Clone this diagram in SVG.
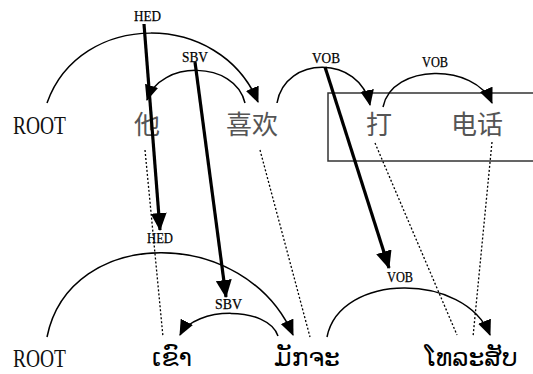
<svg xmlns="http://www.w3.org/2000/svg" width="533" height="374" viewBox="0 0 533 374">
<style>
.w{font-family:"Liberation Serif","DejaVu Serif",serif;font-size:26px;fill:#111}
.zh{font-family:"Noto Sans CJK SC",sans-serif;font-size:26px;font-weight:normal;fill:#555;text-anchor:middle}
.lo{font-family:"DejaVu Sans",sans-serif;font-size:25px;fill:#000;text-anchor:middle}
.lb{font-family:"Liberation Serif","DejaVu Serif",serif;font-size:15px;fill:#000;text-anchor:middle;stroke:#000;stroke-width:0.25}
.arc{fill:none;stroke:#000;stroke-width:1.5}
.dep{fill:none;stroke:#000;stroke-width:3.2}
.dot{fill:none;stroke:#000;stroke-width:1.3;stroke-dasharray:2 2}
</style>
<defs>
<marker id="ah" markerUnits="userSpaceOnUse" markerWidth="16" markerHeight="14" viewBox="0 0 14 12" refX="13" refY="6" orient="auto">
<path d="M0,0 L14,6 L0,12 z" fill="#000"/>
</marker>
<marker id="bh" markerUnits="userSpaceOnUse" markerWidth="18" markerHeight="16" viewBox="0 0 18 16" refX="17" refY="8" orient="auto">
<path d="M0,0 L18,8 L0,16 z" fill="#000"/>
</marker>
</defs>
<rect x="328" y="93" width="215" height="68" fill="none" stroke="#333" stroke-width="1.5"/>
<g id="top-root"><text class="w" x="13" y="134" textLength="53" lengthAdjust="spacingAndGlyphs">ROOT</text></g>
<g id="top-ta"><text class="zh" x="147" y="134">他</text></g>
<g id="top-xihuan"><text class="zh" x="252" y="134">喜欢</text></g>
<g id="top-da"><text class="zh" x="379" y="134">打</text></g>
<g id="top-dianhua"><text class="zh" x="477" y="134">电话</text></g>
<g id="bot-root"><text class="w" x="13" y="367" textLength="53" lengthAdjust="spacingAndGlyphs">ROOT</text></g>
<g id="bot-khao"><text class="lo" x="172" y="366">ເຂົາ</text></g>
<g id="bot-mak"><text class="lo" x="307" y="366">ມັກຈະ</text></g>
<g id="bot-tho"><text class="lo" x="471" y="366">ໂທລະສັບ</text></g>
<g id="labels">
<text class="lb" x="147.5" y="21" textLength="27" lengthAdjust="spacingAndGlyphs">HED</text>
<text class="lb" x="195" y="62" textLength="26" lengthAdjust="spacingAndGlyphs">SBV</text>
<text class="lb" x="326" y="63" textLength="28" lengthAdjust="spacingAndGlyphs">VOB</text>
<text class="lb" x="435" y="67" textLength="26" lengthAdjust="spacingAndGlyphs">VOB</text>
<text class="lb" x="160" y="243" textLength="26" lengthAdjust="spacingAndGlyphs">HED</text>
<text class="lb" x="228.5" y="309" textLength="27" lengthAdjust="spacingAndGlyphs">SBV</text>
<text class="lb" x="400" y="282" textLength="26" lengthAdjust="spacingAndGlyphs">VOB</text>
</g>
<g id="connectors">
<path class="arc" d="M47,103 C80,10 220,10 258,102" marker-end="url(#ah)"/>
<path class="arc" d="M245,103 C235,60 160,60 147,100" marker-end="url(#ah)"/>
<path class="arc" d="M277,103 C285,55 360,55 370,105" marker-end="url(#ah)"/>
<path class="arc" d="M383,107 C392,63 475,63 492,103" marker-end="url(#ah)"/>
<path class="arc" d="M47,337 C70,225 245,225 293,335" marker-end="url(#ah)"/>
<path class="arc" d="M278,336 C268,306 195,306 180,335" marker-end="url(#ah)"/>
<path class="arc" d="M327,337 C340,272 465,272 490,335" marker-end="url(#ah)"/>
<path class="dot" d="M145,150 L163,337"/>
<path class="dot" d="M260,150 L310,337"/>
<path class="dot" d="M375,143 L457,335"/>
<path class="dot" d="M492,142 L473,337"/>
<path class="dep" d="M144,24 L160,230" marker-end="url(#bh)"/>
<path class="dep" d="M195,62 L226,297" marker-end="url(#bh)"/>
<path class="dep" d="M325,67 L389,268" marker-end="url(#bh)"/>
</g>
</svg>
